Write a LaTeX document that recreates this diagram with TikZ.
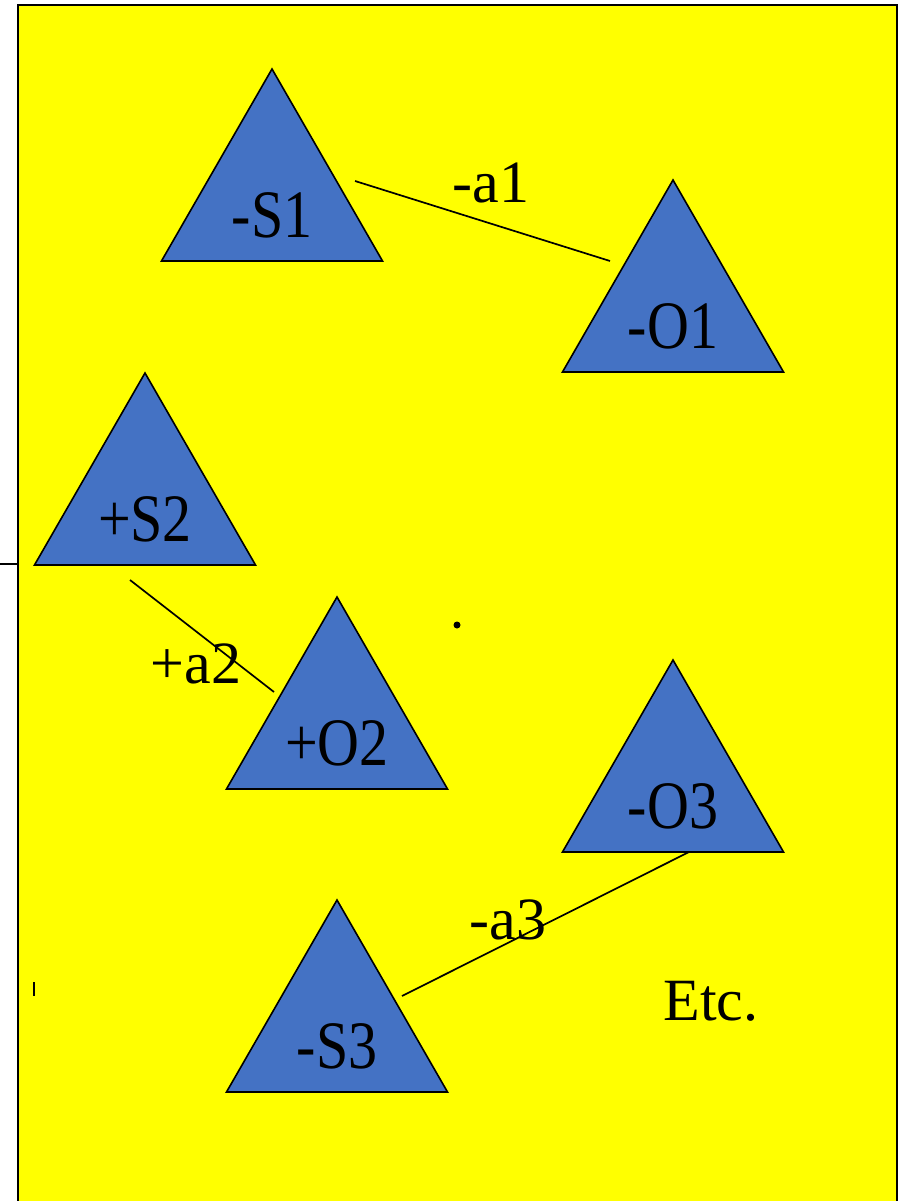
\documentclass[tikz,border=0pt]{standalone}
\usepackage{fontspec}
\setmainfont{Liberation Serif}
\usepackage{tikz}

\definecolor{slideyellow}{RGB}{255,255,0}
\definecolor{triblue}{RGB}{68,114,196}

\tikzset{
  tribox/.style={fill=triblue,draw=black,line width=1.6pt,line join=miter},
  trilabel/.style={anchor=base,inner sep=0pt,font=\fontsize{58}{60}\selectfont},
  linklabel/.style={anchor=base,inner sep=0pt,font=\fontsize{60}{62}\selectfont},
  link/.style={draw=black,line width=1.7pt},
}

% triangle with its apex at (#2,#3); its label is node #1
\newcommand{\triat}[4]{%
  \filldraw[tribox] (#2,#3) -- ++(110.5,192) -- ++(-221,0) -- cycle;
  \node[trilabel] (#1) at (#2,#3+168) {\scalebox{1}[1.17]{#4}};
}

\begin{document}
\begin{tikzpicture}[x=1pt,y=-1pt]
  \useasboundingbox (0,0) rectangle (901,1201);
  \filldraw[fill=slideyellow,draw=black,line width=2.2pt] (18,5) rectangle (897,1215);
  \coordinate (stubl) at (0,564);
  \coordinate (stubr) at (18,564);
  \draw[line width=1.7pt] (stubl) -- (stubr);
  \draw[line width=1.7pt] (34,982) -- (34,996);
  \fill (457,625) circle (3.5);

  \triat{s1}{272}{69}{-S1}
  \triat{o1}{673}{180}{-O1}
  \triat{s2}{145}{373}{+S2}
  \triat{o2}{337}{597}{+O2}
  \triat{o3}{673}{660}{-O3}
  \triat{s3}{337}{900}{-S3}

  % links float just off the triangles
  \coordinate (a1from) at (355,181);
  \coordinate (a1to) at (610,261);
  \coordinate (a2from) at (130,580);
  \coordinate (a2to) at (274,692);
  \coordinate (a3from) at (402,996);
  \coordinate (a3to) at (689,852);
  \draw[link] (a1from) -- (a1to);
  \draw[link] (a2from) -- (a2to);
  \draw[link] (a3from) -- (a3to);
  \node[linklabel] (a1) at (491,203) {-a1};
  \node[linklabel] (a2) at (196,683) {+a2};
  \node[linklabel] (a3) at (508,939) {-a3};
  \node[linklabel] (etc) at (711,1020) {Etc.};
\end{tikzpicture}
\end{document}
